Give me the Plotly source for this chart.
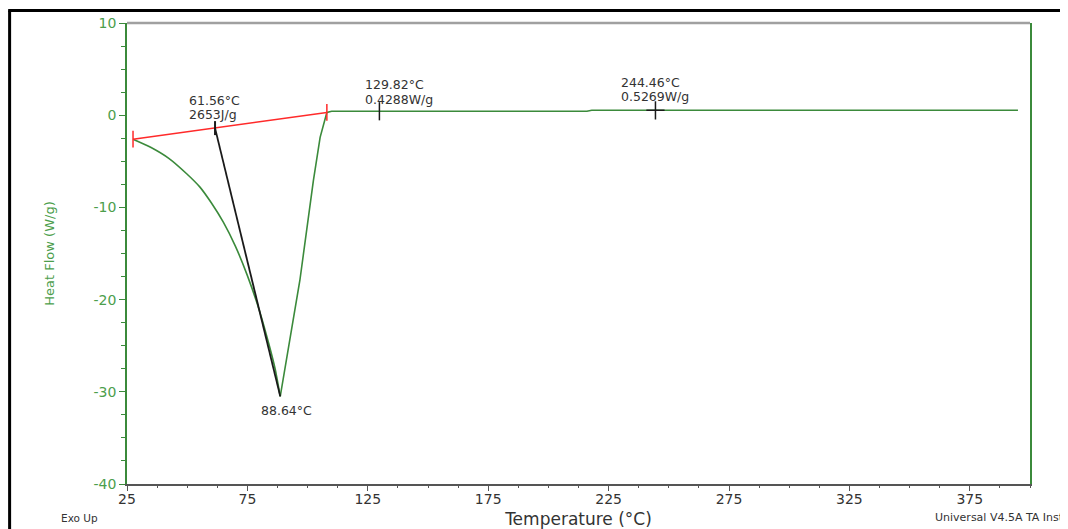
import plotly.graph_objects as go

# ---- data ----
# left (descending) branch of the endotherm
left_temp = [27.5, 35.0, 42.5, 50.0, 55.3, 60.0, 65.0, 70.0, 75.0, 80.0, 84.0, 86.5, 88.64]
left_flow = [-2.6, -3.5, -4.7, -6.4, -7.8, -9.5, -11.6, -14.2, -17.4, -21.2, -24.9, -27.5, -30.5]
# right (recovering) branch and the flat tail
right_temp = [88.64, 92.0, 96.8, 102.4, 105.2, 108.0, 110.0, 216.0, 218.0, 395.0]
right_flow = [-30.5, -25.3, -17.9, -7.1, -2.4, 0.3, 0.43, 0.43, 0.53, 0.53]

baseline_temp = [27.5, 108.0]
baseline_flow = [-2.6, 0.3]

tangent_temp = [61.56, 88.64]
tangent_flow = [-1.4, -30.5]

point_temp = [129.82, 244.46]
point_flow = [0.4288, 0.5269]

onset_lines = ["61.56°C", "2653J/g"]
peak_label = "88.64°C"
point_lines = [["129.82°C", "0.4288W/g"], ["244.46°C", "0.5269W/g"]]

x_ticks = [25, 75, 125, 175, 225, 275, 325, 375]
y_ticks = [10, 0, -10, -20, -30, -40]

GREEN = "#3b8a3b"
LABEL_GREEN = "#4c9e4c"
TXT = "#333333"
FONT = "DejaVu Sans, Arial, sans-serif"
AFS = 12.5  # annotation font size

fig = go.Figure()

fig.add_trace(go.Scatter(x=left_temp, y=left_flow, mode="lines",
                         line=dict(color=GREEN, width=1.6, shape="spline", smoothing=0.6),
                         hoverinfo="skip"))
fig.add_trace(go.Scatter(x=right_temp, y=right_flow, mode="lines",
                         line=dict(color=GREEN, width=1.6), hoverinfo="skip"))
fig.add_trace(go.Scatter(x=baseline_temp, y=baseline_flow, mode="lines+markers",
                         line=dict(color="#ff2a2a", width=1.6),
                         marker=dict(symbol="line-ns-open", size=12, color="#ff2a2a",
                                     line=dict(color="#ff2a2a", width=1.5)),
                         hoverinfo="skip"))
fig.add_trace(go.Scatter(x=tangent_temp, y=tangent_flow, mode="lines",
                         line=dict(color="#1a1a1a", width=1.8), hoverinfo="skip"))
fig.add_trace(go.Scatter(x=tangent_temp[:1], y=tangent_flow[:1], mode="markers",
                         marker=dict(symbol="line-ns-open", size=10, color="#1a1a1a",
                                     line=dict(color="#1a1a1a", width=2)),
                         hoverinfo="skip"))
fig.add_trace(go.Scatter(x=point_temp, y=point_flow, mode="markers",
                         marker=dict(symbol=["line-ns-open", "cross-thin-open"], size=13,
                                     color="#1a1a1a",
                                     line=dict(color="#1a1a1a", width=1.5)),
                         hoverinfo="skip"))

afont = dict(family=FONT, size=AFS, color=TXT)

# onset / enthalpy label (two lines, left aligned)
for line_txt, ys in zip(onset_lines, [28, 14]):
    fig.add_annotation(x=tangent_temp[0], y=tangent_flow[0], text=line_txt,
                       showarrow=False, xanchor="left", yanchor="middle",
                       xshift=-28, yshift=ys, font=afont)
# peak label
fig.add_annotation(x=tangent_temp[1], y=tangent_flow[1], text=peak_label,
                   showarrow=False, xanchor="center", yanchor="middle",
                   xshift=6, yshift=-14, font=afont)
# point labels
for t, f, lines, xs, yss in zip(point_temp, point_flow, point_lines,
                                [-16, -36], [[27, 12], [28, 14]]):
    for line_txt, ys in zip(lines, yss):
        fig.add_annotation(x=t, y=f, text=line_txt, showarrow=False,
                           xanchor="left", yanchor="middle", xshift=xs, yshift=ys,
                           font=afont)

# outer labels
fig.add_annotation(xref="paper", yref="paper", x=-0.075, y=-0.0738, text="Exo Up",
                   showarrow=False, xanchor="left", yanchor="middle",
                   font=dict(family=FONT, size=10.5, color=TXT))
fig.add_annotation(xref="paper", yref="paper", x=0.893, y=-0.0716,
                   text="Universal V4.5A TA Instruments",
                   showarrow=False, xanchor="left", yanchor="middle",
                   font=dict(family=FONT, size=11, color=TXT))

# frame: top grey line and outer black border
fig.add_shape(type="line", xref="paper", yref="paper", x0=0, x1=1, y0=1, y1=1,
              line=dict(color="#a0a0a0", width=2.5))
fig.add_shape(type="line", xref="paper", yref="paper", x0=-0.130, x1=-0.130,
              y0=-0.2, y1=1.0271, line=dict(color="#000000", width=3))
fig.add_shape(type="line", xref="paper", yref="paper", x0=-0.1316, x1=1.1,
              y0=1.0271, y1=1.0271, line=dict(color="#000000", width=3))

fig.update_xaxes(range=[25, 400], tickvals=x_ticks, ticktext=[str(v) for v in x_ticks],
                 ticks="outside", ticklen=5, tickcolor="#555555", tickwidth=1,
                 minor=dict(dtick=12.5, tick0=25, ticks="outside", ticklen=2,
                            tickcolor="#555555"),
                 showline=True, linecolor="#555555", linewidth=1.5, mirror=False,
                 showgrid=False, zeroline=False, automargin=False,
                 ticklabelstandoff=-4,
                 tickfont=dict(family=FONT, size=14, color=TXT),
                 title=dict(text="Temperature (°C)", standoff=8,
                            font=dict(family=FONT, size=17, color=TXT)))
fig.update_yaxes(range=[-40, 10], tickvals=y_ticks, ticktext=[str(v) for v in y_ticks],
                 ticks="outside", ticklen=6, tickcolor=GREEN, tickwidth=1,
                 minor=dict(dtick=2.5, tick0=0, ticks="outside", ticklen=4,
                            tickcolor=GREEN),
                 showline=True, linecolor=GREEN, linewidth=1.5, mirror=True,
                 showgrid=False, zeroline=False, automargin=False,
                 tickfont=dict(family=FONT, size=14, color=LABEL_GREEN),
                 title=dict(text="Heat Flow (W/g)", standoff=36,
                            font=dict(family=FONT, size=13, color=LABEL_GREEN)))

# the page adds an 8px body margin, so the figure is 8px smaller than the window
fig.update_layout(width=1060, height=521, showlegend=False,
                  margin=dict(l=119, r=38, t=15, b=45),
                  paper_bgcolor="white", plot_bgcolor="white")

fig.write_html("out.html")
